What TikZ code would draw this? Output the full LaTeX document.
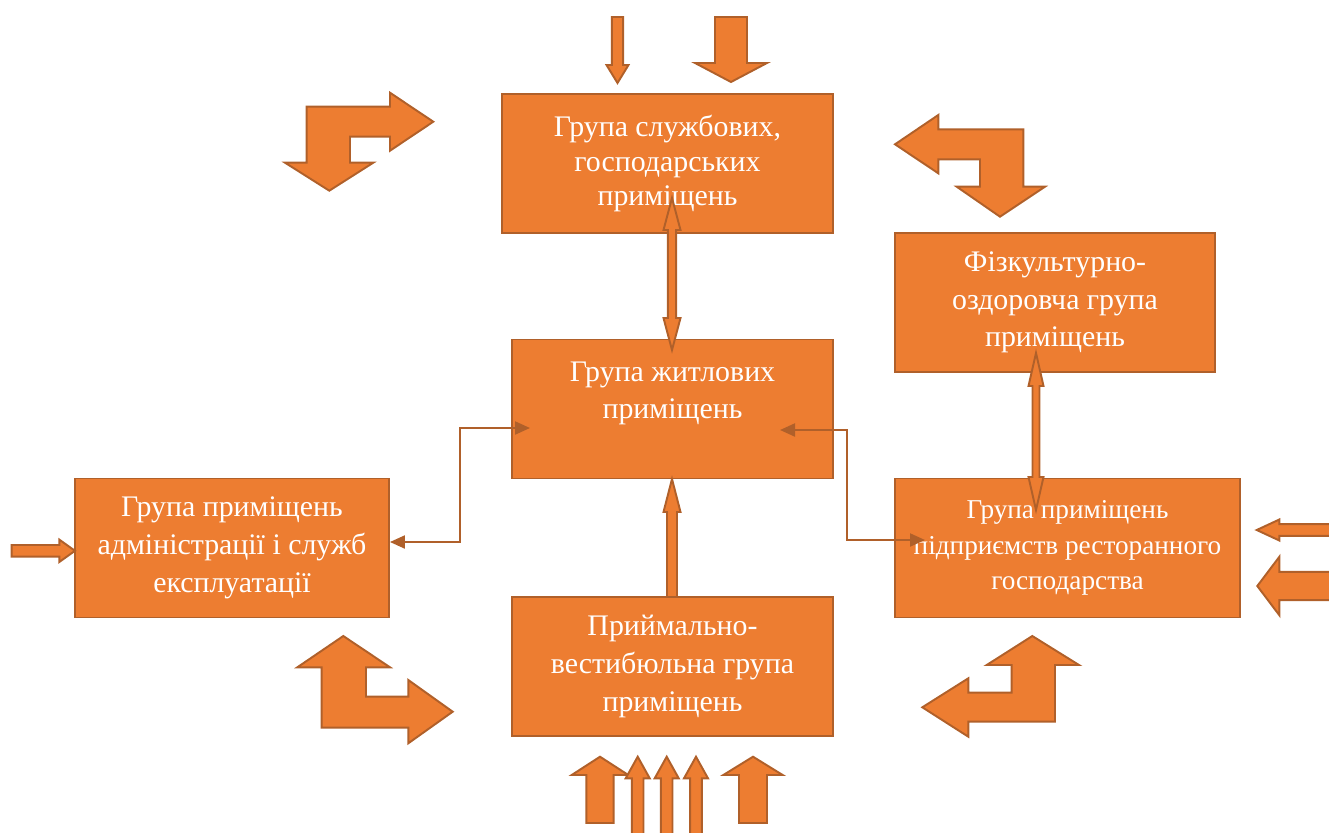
\documentclass[tikz,border=0pt]{standalone}
\usepackage{fontspec}
\setmainfont{Liberation Serif}
\usetikzlibrary{arrows.meta,positioning}
\definecolor{boxC}{HTML}{ED7D31}
\definecolor{edgeC}{HTML}{B0602A}

\tikzset{
  grp/.style={draw=edgeC, fill=boxC, line width=1.1pt, text=white, align=center,
    inner sep=0pt, minimum height=2.78cm, font=\fontsize{17}{21.5}\selectfont},
  blk/.style={draw=edgeC, fill=boxC, line width=1.1pt, line join=miter},
  link/.style={draw=edgeC, line width=1.2pt,
    {Triangle[length=0.3cm,width=0.26cm]}-{Triangle[length=0.3cm,width=0.26cm]}},
}

% vertical block arrow: x, tip y, head base y, tail y, head half, shaft half
\newcommand\varr[6]{\draw[blk] ({#1},{#2}) -- ({#1+#5},{#3}) -- ({#1+#6},{#3}) -- ({#1+#6},{#4})
  -- ({#1-#6},{#4}) -- ({#1-#6},{#3}) -- ({#1-#5},{#3}) -- cycle;}
% horizontal block arrow: y, tip x, head base x, tail x, head half, shaft half
\newcommand\harr[6]{\draw[blk] ({#2},{#1}) -- ({#3},{#1+#5}) -- ({#3},{#1+#6}) -- ({#4},{#1+#6})
  -- ({#4},{#1-#6}) -- ({#3},{#1-#6}) -- ({#3},{#1-#5}) -- cycle;}
% up-down block arrow: x, top tip, bottom tip, head length, head half, shaft half
\newcommand\dblarr[6]{\draw[blk] ({#1},{#2}) -- ({#1+#5},{#2+#4}) -- ({#1+#6},{#2+#4}) -- ({#1+#6},{#3-#4})
  -- ({#1+#5},{#3-#4}) -- ({#1},{#3}) -- ({#1-#5},{#3-#4}) -- ({#1-#6},{#3-#4})
  -- ({#1-#6},{#2+#4}) -- ({#1-#5},{#2+#4}) -- cycle;}

\begin{document}
\begin{tikzpicture}[x=0.02cm, y=-0.02cm]
  \useasboundingbox (0,0) rectangle (1329,832);

  \node[grp, minimum width=6.62cm, font=\fontsize{17}{19.8}\selectfont] (sluzh) at (667.5,163.5) {Група службових,\\господарських\\приміщень};
  \node[grp, minimum width=6.42cm] (zhit) at (672.5,409) {Група житлових\\приміщень\\\mbox{}};
  \node[grp, minimum width=6.40cm] (fiz) at (1055,302.5) {Фізкультурно-\\оздоровча група\\приміщень};
  \node[grp, minimum width=6.28cm] (adm) at (232,548) {Група приміщень\\адміністрації і служб\\експлуатації};
  \node[grp, minimum width=6.90cm, font=\fontsize{15.5}{20}\selectfont] (rest) at (1067.5,548) {Група приміщень\\підприємств ресторанного\\господарства};
  \node[grp, minimum width=6.42cm] (pryim) at (672.5,666.5) {Приймально-\\вестибюльна група\\приміщень};

  \coordinate (zL) at (530,428);
  \coordinate (zR) at (780,430);
  \coordinate (rL) at (925,540);
  \draw[link] (zL) -- (460,428) |- ([yshift=0.12cm]adm.east);
  \draw[link] (zR) -- (847,430) |- (rL);

  \varr{672}{479}{512}{597}{8.5}{5}
  \dblarr{672}{198}{350}{32}{8.5}{4.2}
  \dblarr{1036}{353}{510}{33}{7.5}{3.5}

  % bent arrows
  \draw[blk] (306.7,106.7) -- (390,106.7) -- (390,92.7) -- (433.3,121.7) -- (390,150.7) -- (390,136.7)
    -- (350,136.7) -- (350,162.7) -- (373.3,162.7) -- (329.3,190.7) -- (285,162.7) -- (306.7,162.7) -- cycle;
  \draw[blk] (895,144.3) -- (938.3,115) -- (938.3,129.3) -- (1023.3,129.3) -- (1023.3,186.7) -- (1045,186.7)
    -- (1000,216.7) -- (956.7,186.7) -- (980,186.7) -- (980,159.3) -- (938.3,159.3) -- (938.3,173.3) -- cycle;
  \draw[blk] (343.3,636) -- (390,667.3) -- (366,667.3) -- (366,696.7) -- (408.3,696.7) -- (408.3,680)
    -- (452.7,711.7) -- (408.3,743.3) -- (408.3,727.7) -- (321.7,727.7) -- (321.7,667.3) -- (297.3,667.3) -- cycle;
  \draw[blk] (1032.3,636) -- (1079,665) -- (1055,665) -- (1055,721.7) -- (968.3,721.7) -- (968.3,736.7)
    -- (922.3,707.3) -- (968.3,678.3) -- (968.3,692.7) -- (1011.7,692.7) -- (1011.7,665) -- (986.7,665) -- cycle;

  % straight arrows
  \varr{617.5}{83}{65}{17}{11}{5.7}
  \varr{731}{82}{63}{17}{36}{16}
  \varr{600}{756.7}{775}{823}{28.3}{13.7}
  \foreach \ax in {637.7,666.7,696} {
    \varr{\ax}{756.7}{778.3}{834}{12}{5.8}
  }
  \varr{753}{756.7}{775}{823}{29.7}{14}
  \harr{530}{1256.7}{1279.3}{1331}{10.5}{5.8}
  \harr{586}{1257.3}{1279.3}{1331}{29.2}{14.2}
  \harr{550.8}{75}{59.3}{11.7}{11.2}{5.8}
\end{tikzpicture}
\end{document}
